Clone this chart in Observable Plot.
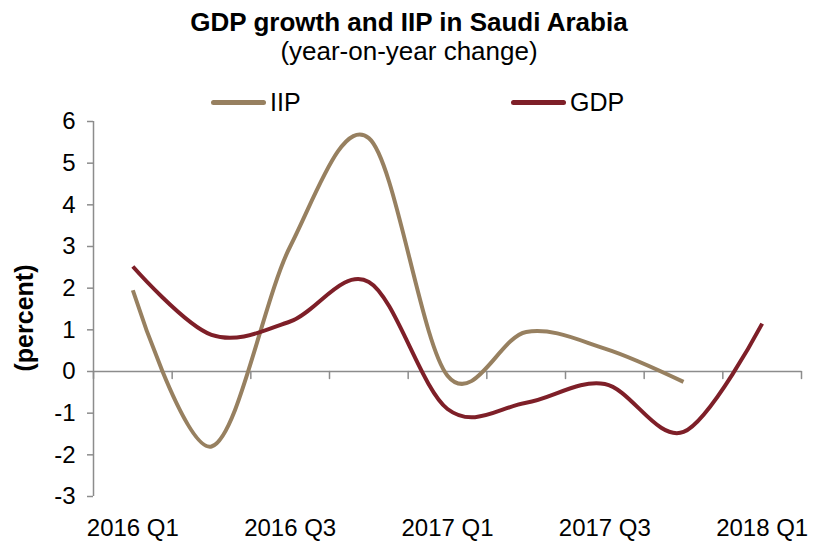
<!DOCTYPE html>
<html>
<head>
<meta charset="utf-8">
<script src="https://cdn.jsdelivr.net/npm/d3@7"></script>
<script src="https://cdn.jsdelivr.net/npm/@observablehq/plot@0.6"></script>
<style>
  body { margin: 0; background: #fff; font-family: "Liberation Sans", Arial, sans-serif; }
  #wrap { width: 818px; position: relative; }
  #header { position: relative; height: 110px; }
  .title { position: absolute; left: 0; width: 818px; text-align: center; top: 9px; font-weight: bold; font-size: 26px; line-height: 26px; color: #000; }
  .subtitle { position: absolute; left: 0; width: 818px; text-align: center; top: 38px; font-size: 26px; line-height: 26px; color: #000; }
  .leg { position: absolute; top: 88px; display: flex; align-items: center; font-size: 25px; line-height: 28px; color: #000; }
  .leg .sw { width: 55px; height: 5px; border-radius: 3px; margin-right: 4px; }
  .ylab { position: absolute; left: 24px; top: 318px; transform: translate(-50%,-50%) rotate(-90deg); font-weight: bold; font-size: 25px; white-space: nowrap; }
</style>
</head>
<body>
<div id="wrap">
  <div id="header">
    <div class="title">GDP growth and IIP in Saudi Arabia</div>
    <div class="subtitle">(year-on-year change)</div>
    <div class="leg" id="leg1" style="left:211px"><span class="sw"></span><span class="lt"></span></div>
    <div class="leg" id="leg2" style="left:511px"><span class="sw"></span><span class="lt"></span></div>
  </div>
  <div id="chart"></div>
  <div class="ylab">(percent)</div>
</div>
<script>
const quarters = ["2016 Q1","2016 Q2","2016 Q3","2016 Q4","2017 Q1","2017 Q2","2017 Q3","2017 Q4","2018 Q1"];
const tickLabels = ["2016 Q1","2016 Q3","2017 Q1","2017 Q3","2018 Q1"];
const iip = [1.95, -1.8, 3.0, 5.6, -0.1, 0.95, 0.55, -0.25, null];
const gdp = [2.52, 0.88, 1.2, 2.15, -0.9, -0.75, -0.3, -1.45, 1.15];
const seriesNames = ["IIP", "GDP"];
const seriesColors = ["#978060", "#7e1f28"];
const yTicks = [-3,-2,-1,0,1,2,3,4,5,6];

const rows = [];
quarters.forEach((q, i) => {
  if (iip[i] != null) rows.push({i, q, series: "IIP", value: iip[i]});
});
quarters.forEach((q, i) => {
  if (gdp[i] != null) rows.push({i, q, series: "GDP", value: gdp[i]});
});
const boundaries = d3.range(quarters.length + 1).map(k => k - 0.5);
const labelIdx = tickLabels.map(t => quarters.indexOf(t));

// legend
[["leg1", 0], ["leg2", 1]].forEach(([id, k]) => {
  const el = document.getElementById(id);
  el.querySelector(".sw").style.background = seriesColors[k];
  el.querySelector(".lt").textContent = seriesNames[k];
});

const tickShape = {draw(context, l) { context.moveTo(0, 0); context.lineTo(0, -l); }};
const axisGray = "#8c8c8c";

const chart = Plot.plot({
  width: 818,
  height: 432,
  marginLeft: 93,
  marginRight: 17,
  marginTop: 11,
  marginBottom: 46,
  style: {fontFamily: "'Liberation Sans', Arial, sans-serif", fontSize: "24px", color: "#000", background: "#fff", overflow: "visible"},
  x: {domain: [-0.5, quarters.length - 0.5], axis: null},
  y: {domain: [-3, 6], axis: null},
  color: {domain: seriesNames, range: seriesColors},
  marks: [
    Plot.ruleX([-0.5], {y1: -3, y2: 6, stroke: axisGray, strokeWidth: 1.5}),
    Plot.axisY({ticks: yTicks, tickSize: 6, tickPadding: 12, stroke: axisGray, strokeWidth: 1.5, color: "#000", fontSize: 24, label: null, tickFormat: d => d}),
    Plot.ruleY([0], {stroke: axisGray, strokeWidth: 1.5}),
    Plot.vector(boundaries, {x: d => d, y: 0, length: 7, rotate: 180, anchor: "start", shape: tickShape, stroke: axisGray, strokeWidth: 1.5}),
    Plot.axisX({ticks: labelIdx, tickSize: 0, tickPadding: 22, anchor: "bottom", fontSize: 24, tickFormat: i => quarters[i], label: null}),
    Plot.line(rows, {x: "i", y: "value", z: "series", stroke: "series", strokeWidth: 4, curve: "cardinal", tension: 0, strokeLinecap: "butt", strokeLinejoin: "round"})
  ]
});
document.getElementById("chart").appendChild(chart);
</script>
</body>
</html>
